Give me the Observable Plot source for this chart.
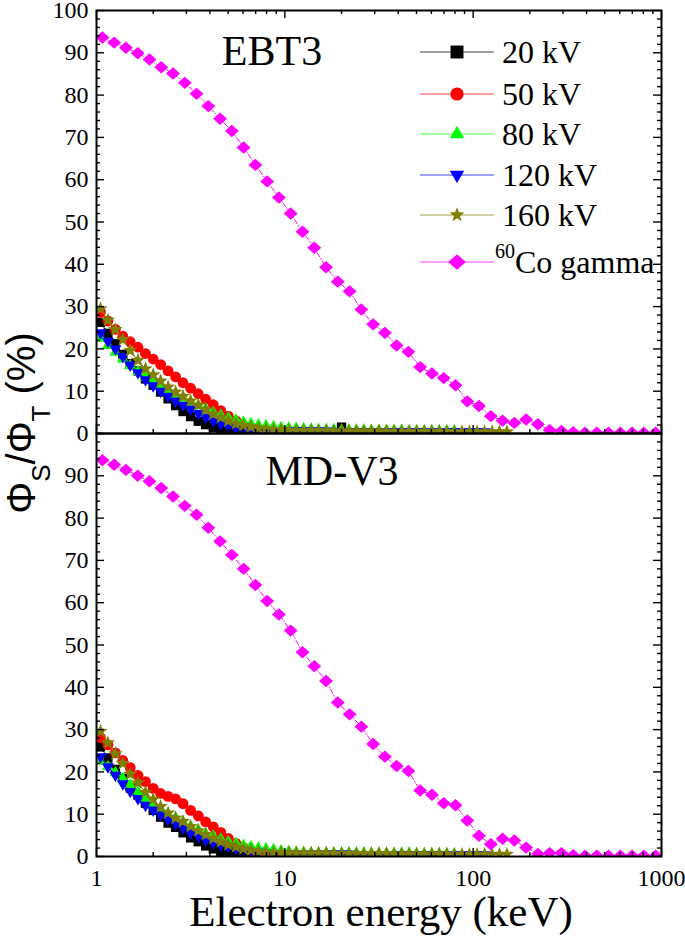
<!DOCTYPE html>
<html><head><meta charset="utf-8">
<script src="https://cdn.jsdelivr.net/npm/d3@7"></script>
<script src="https://cdn.jsdelivr.net/npm/@observablehq/plot@0.6"></script>
<style>
body{margin:0;background:#fff;}
#chart{position:relative;width:685px;height:938px;overflow:hidden;background:#fff;}
.layer{position:absolute;left:0;}
</style></head><body><div id="chart"></div>
<script>
// ---------------- data ----------------
const seriesNames = ["20 kV", "50 kV", "80 kV", "120 kV", "160 kV"];
const coName = "Co gamma";
const panelNames = ["EBT3", "MD-V3"];

const kvEnergy = [1.05, 1.15, 1.26, 1.38, 1.51, 1.66, 1.82, 2.00, 2.19, 2.40, 2.63, 2.88, 3.16, 3.47, 3.80, 4.17, 4.57, 5.01, 5.50, 6.03, 6.61, 7.24, 7.94, 8.71, 9.55, 10.5, 11.5, 12.6, 13.8, 15.1, 16.6, 18.2, 20.0, 21.9, 24.0, 26.3, 28.8, 31.6, 34.7, 38.0, 41.7, 45.7, 50.1, 55.0, 60.3, 66.1, 72.4, 79.4, 87.1, 95.5, 105, 115, 126, 138, 151];

const coEnergy = [1.075, 1.241, 1.433, 1.655, 1.911, 2.207, 2.548, 2.943, 3.398, 3.924, 4.531, 5.232, 6.042, 6.977, 8.057, 9.304, 10.74, 12.41, 14.33, 16.55, 19.11, 22.07, 25.48, 29.43, 33.98, 39.24, 45.31, 52.32, 60.42, 69.77, 80.57, 93.04, 107.4, 124.1, 143.3, 165.5, 191.1, 220.7, 254.8, 294.3, 339.8, 392.4, 453.1, 523.2, 604.2, 697.7, 805.7, 930.4];

// EBT3 (top panel)
const kv20Top = [26.3, 23.7, 21.2, 18.7, 16.5, 14.8, 12.9, 11.4, 9.8, 8.2, 6.6, 5.2, 4.0, 2.9, 2.1, 1.4, 0.9, 0.6, 0.4, 0.3, 0.25, 0.2, 0.2, 0.2, 0.2, 0.2, 0.2, 0.2, 0.2, 0.2, 0.2, 0.2, 1.5];
const kv50Top = [28.7, 26.6, 24.6, 23.0, 21.7, 20.4, 18.9, 17.6, 16.3, 14.8, 13.4, 12.0, 10.7, 9.4, 8.1, 6.8, 5.4, 4.1, 3.0, 2.0, 1.3, 0.8, 0.5, 0.4, 0.3, 0.3, 0.3, 0.3, 0.3, 0.3, 0.2, 0.2, 0.2, 0.2, 0.2, 0.2, 0.2, 0.2, 0.2, 0.2, 0.2, 0.2, 0.2];
const kv80Top = [22.5, 20.8, 19.2, 17.6, 16.0, 14.6, 13.3, 12.2, 11.1, 10.1, 9.2, 8.3, 7.4, 6.6, 5.8, 5.0, 4.3, 3.7, 3.2, 2.7, 2.3, 2.0, 1.8, 1.6, 1.4, 1.3, 1.2, 1.1, 1.0, 0.9, 0.9, 0.9, 0.8, 0.8, 0.8, 0.8, 0.7, 0.7, 0.7, 0.7, 0.7, 0.6, 0.6, 0.6, 0.6, 0.6, 0.6, 0.6];
const kv120Top = [23.8, 21.8, 20.0, 18.2, 16.2, 14.4, 12.7, 11.3, 10.0, 8.8, 7.7, 6.7, 5.8, 4.8, 3.9, 3.0, 2.3, 1.7, 1.3, 1.0, 0.8, 0.7, 0.6, 0.6, 0.6, 0.6, 0.6, 0.6, 0.6, 0.6, 0.6, 0.5, 0.5, 0.5, 0.5, 0.5, 0.5, 0.5, 0.5, 0.5, 0.5, 0.5, 0.4, 0.4, 0.4, 0.4, 0.4, 0.4, 0.4, 0.4, 0.4, 0.4];
const kv160Top = [29.5, 26.8, 24.6, 22.2, 19.6, 17.3, 15.3, 13.9, 12.4, 11.0, 9.8, 8.8, 7.7, 6.7, 5.6, 4.6, 3.8, 3.0, 2.3, 1.9, 1.6, 1.3, 1.1, 0.95, 0.85, 0.75, 0.7, 0.7, 0.7, 0.7, 0.7, 0.6, 0.6, 0.6, 0.6, 0.6, 0.6, 0.6, 0.6, 0.5, 0.5, 0.5, 0.5, 0.5, 0.5, 0.5, 0.5, 0.4, 0.4, 0.4, 0.4, 0.4, 0.4, 0.4, 0.4];
const coTop = [93.6, 92.4, 91.2, 89.9, 88.4, 86.6, 85.1, 82.9, 80.3, 77.4, 74.4, 71.5, 67.6, 63.5, 59.6, 55.8, 52.0, 47.7, 43.9, 39.3, 35.9, 33.6, 29.3, 25.8, 23.8, 20.8, 19.3, 15.7, 14.2, 13.1, 11.4, 7.6, 6.5, 4.1, 3.0, 2.5, 3.3, 2.2, 0.8, 0.6, 0.3, 0.2, 0.2, 0.2, 0.2, 0.2, 0.2, 0.2];

// MD-V3 (bottom panel)
const kv20Bot = [25.9, 23.3, 20.6, 18.5, 16.2, 14.5, 12.6, 10.9, 9.3, 7.9, 6.9, 5.6, 4.4, 3.5, 2.5, 1.8, 1.2, 0.9, 0.6, 0.4, 0.3, 0.2, 0.2, 0.2, 0.2, 0.2, 0.2, 0.2, 0.2, 0.2, 0.2, 0.2, 0.2];
const kv50Bot = [28.1, 26.4, 24.5, 22.7, 21.0, 19.2, 17.7, 16.1, 14.9, 14.2, 13.6, 12.5, 10.9, 9.6, 8.2, 7.0, 5.7, 4.3, 3.1, 2.1, 1.4, 0.8, 0.5, 0.3, 0.2, 0.2, 0.2, 0.2, 0.2, 0.2, 0.2, 0.2, 0.2, 0.2, 0.2, 0.2, 0.2, 0.2, 0.2, 0.2, 0.2, 0.2, 0.2];
const kv80Bot = [22.5, 21.2, 19.8, 18.4, 16.9, 15.2, 13.6, 12.4, 11.1, 10.1, 9.1, 8.1, 7.1, 6.3, 5.4, 4.8, 4.1, 3.5, 3.1, 2.6, 2.3, 2.0, 1.8, 1.6, 1.3, 1.2, 1.0, 0.9, 0.8, 0.8, 0.8, 0.8, 0.8, 0.8, 0.8, 0.8, 0.7, 0.7, 0.7, 0.7, 0.7, 0.7, 0.6, 0.6, 0.6, 0.6, 0.6, 0.6];
const kv120Bot = [23.6, 21.2, 19.2, 17.2, 15.4, 13.7, 12.1, 11.0, 9.9, 8.8, 7.8, 6.7, 5.6, 4.8, 3.9, 3.3, 2.7, 2.2, 1.8, 1.5, 1.2, 1.0, 0.8, 0.7, 0.6, 0.6, 0.6, 0.6, 0.6, 0.6, 0.6, 0.6, 0.6, 0.6, 0.5, 0.5, 0.5, 0.5, 0.5, 0.5, 0.5, 0.5, 0.5, 0.5, 0.4, 0.4, 0.4, 0.4, 0.4, 0.4, 0.4, 0.4];
const kv160Bot = [29.6, 26.9, 24.3, 22.0, 19.5, 17.4, 15.2, 13.5, 11.8, 10.3, 9.1, 8.3, 7.1, 6.1, 5.2, 4.3, 3.5, 2.8, 2.3, 1.8, 1.5, 1.2, 1.0, 0.95, 0.9, 0.8, 0.8, 0.8, 0.8, 0.8, 0.8, 0.7, 0.7, 0.7, 0.7, 0.7, 0.7, 0.7, 0.7, 0.6, 0.6, 0.6, 0.6, 0.6, 0.6, 0.6, 0.6, 0.5, 0.5, 0.5, 0.5, 0.5, 0.5, 0.5, 0.5];
const coBot = [93.7, 92.6, 91.4, 90.0, 88.7, 87.1, 85.1, 82.9, 80.8, 77.7, 74.5, 71.3, 68.0, 64.2, 60.4, 57.2, 53.4, 48.3, 45.0, 41.5, 36.4, 33.6, 30.7, 26.6, 23.6, 21.4, 20.2, 15.6, 14.6, 12.6, 12.1, 8.5, 4.9, 2.9, 4.2, 3.8, 2.1, 0.6, 0.8, 0.8, 0.3, 0.2, 0.2, 0.2, 0.2, 0.2, 0.2, 0.2];

// ticks and tick labels
const xMajor = [1, 10, 100, 1000];
const xMinor = [2, 3, 4, 5, 6, 7, 8, 9, 20, 30, 40, 50, 60, 70, 80, 90, 200, 300, 400, 500, 600, 700, 800, 900];
const xTickLabels = [1, 10, 100, 1000];
const yMajor = [0, 10, 20, 30, 40, 50, 60, 70, 80, 90, 100];
const yMinor = [2, 4, 6, 8, 12, 14, 16, 18, 22, 24, 26, 28, 32, 34, 36, 38, 42, 44, 46, 48, 52, 54, 56, 58, 62, 64, 66, 68, 72, 74, 76, 78, 82, 84, 86, 88, 92, 94, 96, 98];
const yLabelsTop = [0, 10, 20, 30, 40, 50, 60, 70, 80, 90, 100];
const yLabelsBot = [0, 10, 20, 30, 40, 50, 60, 70, 80, 90];

// ---------------- styles ----------------
const kvColors = ["#000000", "#ff0000", "#00ff00", "#0000ff", "#808000"];
const coColor = "#ff00ff";
const SERIF = "'Liberation Serif', 'Times New Roman', serif";
const SANS = "'Liberation Sans', Arial, sans-serif";

// custom symbols (size = PI r^2)
const R = s => Math.sqrt(s / Math.PI);
const symSquare = {draw(c, s) {const a = R(s) * 0.85; c.moveTo(-a, -a); c.lineTo(a, -a); c.lineTo(a, a); c.lineTo(-a, a); c.closePath();}};
const symCircle = {draw(c, s) {const r = R(s); c.moveTo(r, 0); c.arc(0, 0, r, 0, 2 * Math.PI);}};
const symUp = {draw(c, s) {const r = R(s); c.moveTo(0, -1.155 * r); c.lineTo(r, 0.577 * r); c.lineTo(-r, 0.577 * r); c.closePath();}};
const symDown = {draw(c, s) {const r = R(s); c.moveTo(0, 1.155 * r); c.lineTo(r, -0.577 * r); c.lineTo(-r, -0.577 * r); c.closePath();}};
const symStar = {draw(c, s) {const r = R(s) * 1.25, ri = r * 0.42; for (let k = 0; k < 10; k++) {const a = -Math.PI / 2 + k * Math.PI / 5, rr = k % 2 ? ri : r; const x = rr * Math.cos(a), y = rr * Math.sin(a); k ? c.lineTo(x, y) : c.moveTo(x, y);} c.closePath();}};
const symDiamond = {draw(c, s) {const r = R(s); c.moveTo(0, -r); c.lineTo(1.12 * r, 0); c.lineTo(0, r); c.lineTo(-1.12 * r, 0); c.closePath();}};
const kvSymbols = [symSquare, symCircle, symUp, symDown, symStar];
const kvR = [5.5, 5.4, 6.0, 6.0, 6.0];

const W = 685, ML = 96, MR = 24;
const FW = W - ML - MR;

function panel(kvVals, coVals, opt) {
  const FH = opt.height - opt.mt - opt.mb;
  const marks = [];
  kvVals.forEach((vals, s) => {
    const rows = vals.map((v, i) => ({e: kvEnergy[i], v}));
    marks.push(Plot.line(rows, {x: "e", y: "v", stroke: kvColors[s], strokeWidth: 1, clip: true}));
    marks.push(Plot.dot(rows, {x: "e", y: "v", symbol: kvSymbols[s], r: kvR[s], fill: kvColors[s], stroke: "none", clip: true}));
  });
  const coRows = coVals.map((v, i) => ({e: coEnergy[i], v}));
  marks.push(Plot.line(coRows, {x: "e", y: "v", stroke: coColor, strokeWidth: 1, strokeDasharray: "5,2,1,2", clip: true}));
  marks.push(Plot.dot(coRows, {x: "e", y: "v", symbol: symDiamond, r: 6.2, fill: coColor, stroke: "none", clip: true}));
  const tk = {stroke: "#000", strokeWidth: 1.4};
  marks.push(
    Plot.tickY(yMajor, {y: d => d, insetRight: FW - 8, ...tk}),
    Plot.tickY(yMinor, {y: d => d, insetRight: FW - 4, ...tk}),
    Plot.tickY(yMajor, {y: d => d, insetLeft: FW - 8, ...tk}),
    Plot.tickY(yMinor, {y: d => d, insetLeft: FW - 4, ...tk}),
    Plot.tickX(xMajor, {x: d => d, insetTop: FH - 8, ...tk}),
    Plot.tickX(xMinor, {x: d => d, insetTop: FH - 4, ...tk})
  );
  if (opt.topTicks) marks.push(
    Plot.tickX(xMajor, {x: d => d, insetBottom: FH - 8, ...tk}),
    Plot.tickX(xMinor, {x: d => d, insetBottom: FH - 4, ...tk})
  );
  marks.push(Plot.frame({stroke: "#000", strokeWidth: 2}));
  marks.push(Plot.text(opt.ylabels, {y: d => d, text: d => String(d), frameAnchor: "left", dx: -8, textAnchor: "end", fontSize: 24, fontFamily: SERIF, fill: "#000"}));
  if (opt.xlabels) marks.push(Plot.text(xTickLabels, {x: d => d, text: d => String(d), frameAnchor: "bottom", dy: 29, lineAnchor: "bottom", fontSize: 24, fontFamily: SERIF, fill: "#000"}));
  return Plot.plot({
    width: W, height: opt.height,
    marginLeft: ML, marginRight: MR, marginTop: opt.mt, marginBottom: opt.mb,
    x: {type: "log", domain: [1, 1000], axis: null},
    y: {domain: [0, 100], axis: null},
    style: {overflow: "visible", background: "none"},
    marks
  });
}

const chart = document.getElementById("chart");
function addLayer(node, top) {
  const d = document.createElement("div");
  d.className = "layer"; d.style.top = top + "px";
  d.appendChild(node); chart.appendChild(d);
}
addLayer(panel([kv20Top, kv50Top, kv80Top, kv120Top, kv160Top], coTop, {height: 434, mt: 10, mb: 1, ylabels: yLabelsTop, topTicks: true, xlabels: false}), 0);
addLayer(panel([kv20Bot, kv50Bot, kv80Bot, kv120Bot, kv160Bot], coBot, {height: 506, mt: 1, mb: 82, ylabels: yLabelsBot, topTicks: false, xlabels: true}), 432);

// ---------------- overlay: titles, axis titles, legend ----------------
const ov = d3.create("svg").attr("width", W).attr("height", 938)
  .style("position", "absolute").style("left", 0).style("top", 0).style("overflow", "visible");
const T = (x, y, txt, size, fam, anchor) => ov.append("text").attr("x", x).attr("y", y)
  .attr("font-size", size).attr("font-family", fam).attr("text-anchor", anchor || "middle").attr("fill", "#000").text(txt);

T(272, 65, panelNames[0], 42, SERIF);
T(332, 485, panelNames[1], 42, SERIF);
T(381, 926, "Electron energy (keV)", 43, SERIF);

const yt = ov.append("text").attr("transform", "translate(35,423) rotate(-90)")
  .attr("text-anchor", "middle").attr("font-family", SANS).attr("font-size", 40).attr("fill", "#000").style("white-space", "pre");
yt.append("tspan").text("\u03A6");
yt.append("tspan").attr("dy", 15).attr("font-size", 26).text("S");
yt.append("tspan").attr("dy", -15).text("/\u03A6");
yt.append("tspan").attr("dy", 15).attr("font-size", 26).text("T");
yt.append("tspan").attr("dy", -15).text(" (%)");

const symPath = (sym, r) => { const p = d3.path(); sym.draw(p, Math.PI * r * r); return p.toString(); };
const legendY = [52, 94, 134, 175, 215, 262];
const legendItems = seriesNames.map((n, i) => ({label: n, color: kvColors[i], sym: kvSymbols[i], r: [7.6, 6.6, 7.2, 7.2, 6.2][i]}));
legendItems.push({label: coName, color: coColor, sym: symDiamond, r: 7.8, sup: "60"});
legendItems.forEach((it, i) => {
  const cy = legendY[i];
  ov.append("line").attr("x1", 420).attr("x2", 494).attr("y1", cy).attr("y2", cy)
    .attr("stroke", it.color).attr("stroke-opacity", 0.5).attr("stroke-width", 1.5);
  ov.append("path").attr("d", symPath(it.sym, it.r)).attr("transform", `translate(457,${cy})`).attr("fill", it.color);
  const t = ov.append("text").attr("y", cy + 11).attr("font-family", SERIF).attr("font-size", 32).attr("fill", "#000");
  if (it.sup) {
    t.attr("x", 495);
    t.append("tspan").attr("font-size", 20).attr("dy", -15).text(it.sup);
    t.append("tspan").attr("dy", 15).text(it.label);
  } else {
    t.attr("x", 502).text(it.label);
  }
});
chart.appendChild(ov.node());
</script></body></html>
